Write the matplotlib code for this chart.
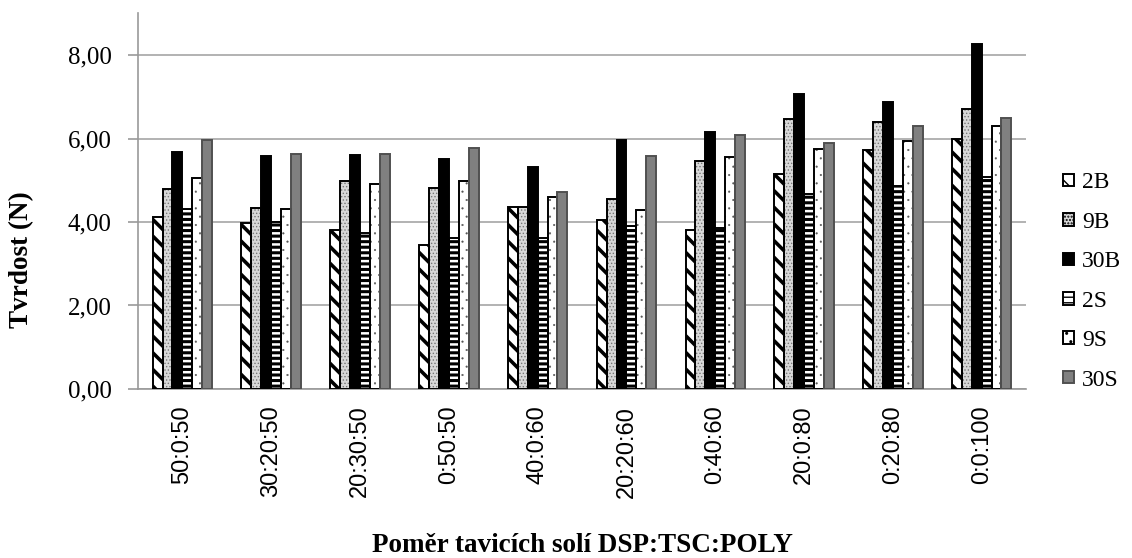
import numpy as np
import matplotlib.pyplot as plt
from matplotlib.patches import Patch

plt.rcParams["font.family"] = ["Liberation Serif", "DejaVu Serif"]

categories = ["50:0:50", "30:20:50", "20:30:50", "0:50:50", "40:0:60",
              "20:20:60", "0:40:60", "20:0:80", "0:20:80", "0:0:100"]
series = ["2B", "9B", "30B", "2S", "9S", "30S"]

v_2B = [4.13, 3.97, 3.81, 3.45, 4.36, 4.04, 3.80, 5.15, 5.73, 6.00]
v_9B = [4.79, 4.33, 4.98, 4.82, 4.36, 4.55, 5.46, 6.47, 6.40, 6.70]
v_30B = [5.67, 5.59, 5.61, 5.50, 5.32, 5.96, 6.15, 7.06, 6.87, 8.26]
v_2S = [4.31, 3.99, 3.73, 3.62, 3.62, 3.91, 3.86, 4.66, 4.87, 5.09]
v_9S = [5.06, 4.31, 4.91, 4.98, 4.60, 4.28, 5.55, 5.76, 5.95, 6.30]
v_30S = [5.96, 5.64, 5.64, 5.77, 4.72, 5.59, 6.09, 5.90, 6.31, 6.50]
values = [v_2B, v_9B, v_30B, v_2S, v_9S, v_30S]

# face, hatch, hatch colour, hatch width, outline colour
styles = [
    ("white", "\\\\", "black", 2.6, "black"),
    ("#d8d8d8", ".....", "#777777", 0.6, "black"),
    ("black", "", "black", 1.0, "black"),
    ("white", "---", "black", 2.2, "black"),
    ("white", "..", "#555555", 0.3, "black"),
    ("#808080", "", "#808080", 1.0, "#505050"),
]

fig = plt.figure(figsize=(11.32, 5.58), dpi=100)
ax = fig.add_axes([0.1219, 0.3029, 0.7845, 0.6733])


def set_hlw(patch, lw):
    if hasattr(patch, "set_hatch_linewidth"):
        patch.set_hatch_linewidth(lw)


x = np.arange(len(categories))
w = 0.1115
handles = []
for i, (name, vals) in enumerate(zip(series, values)):
    face, hatch, hcol, hlw, ecol = styles[i]
    pos = x + (i - 2.5) * w
    with plt.rc_context({"hatch.linewidth": hlw}):
        bars = ax.bar(pos, vals, w, color=face, hatch=hatch, edgecolor=hcol,
                      linewidth=0, zorder=3)
        for b in bars:
            set_hlw(b, hlw)
        ax.bar(pos, vals, w, fill=False, edgecolor=ecol, linewidth=1.4,
               zorder=4)
        h = Patch(facecolor=face, hatch=hatch, edgecolor=ecol,
                  linewidth=1.4, label=name)
        set_hlw(h, min(hlw, 1.6))
    handles.append(h)

ax.set_xlim(-0.5, len(categories) - 0.5)
ax.set_ylim(0, 9)
ax.set_yticks([0, 2, 4, 6, 8])
ax.set_yticklabels(["0,00", "2,00", "4,00", "6,00", "8,00"])
ax.set_xticks(x)
ax.set_xticklabels(categories, rotation=90, family=["Liberation Sans"],
                   fontsize=17)
ax.grid(axis="y", color="#a6a6a6", linewidth=1.2, zorder=0)
for s in ["top", "right"]:
    ax.spines[s].set_visible(False)
for s in ["left", "bottom"]:
    ax.spines[s].set_color("#999999")
    ax.spines[s].set_linewidth(1.2)
ax.tick_params(axis="y", length=7, width=1.2, color="#999999",
               labelsize=18, pad=12)
ax.tick_params(axis="x", length=0, pad=12)

fig.text(22 / 1132, 1 - 260 / 558, "Tvrdost (N)", rotation=90,
         ha="center", va="center", fontsize=19.5, fontweight="bold")
fig.text(582 / 1132, 1 - 545 / 558, "Poměr tavicích solí DSP:TSC:POLY",
         ha="center", va="center", fontsize=19.5, fontweight="bold")

fig.legend(handles=handles, loc="center left",
           bbox_to_anchor=(1063 / 1132, 1 - 281.5 / 558), frameon=False,
           fontsize=17, borderpad=0, borderaxespad=0, handlelength=0.45,
           handleheight=0.45, handletextpad=0.35, labelspacing=0.78)

fig.savefig("out.png", dpi=100)
